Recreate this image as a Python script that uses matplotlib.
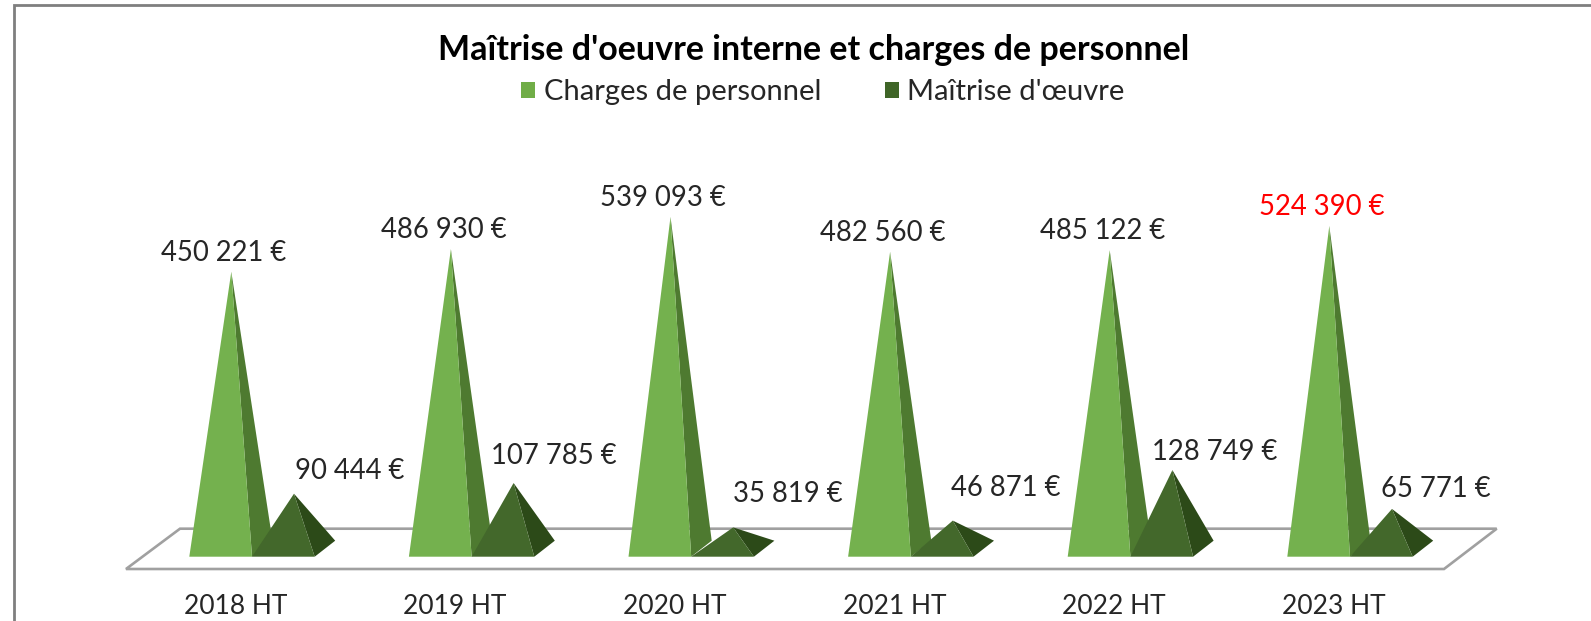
import matplotlib
matplotlib.use('Agg')
import matplotlib.pyplot as plt
from matplotlib.patches import Patch, Polygon, Rectangle

W, H = 1591, 621

years = ['2018 HT', '2019 HT', '2020 HT', '2021 HT', '2022 HT', '2023 HT']
charges = [450221, 486930, 539093, 482560, 485122, 524390]
maitrise = [90444, 107785, 35819, 46871, 128749, 65771]
charges_labels = ['450\u202f221 €', '486\u202f930 €', '539\u202f093 €', '482\u202f560 €', '485\u202f122 €', '524\u202f390 €']
maitrise_labels = ['90\u202f444 €', '107\u202f785 €', '35\u202f819 €', '46\u202f871 €', '128\u202f749 €', '65\u202f771 €']

# label offsets from the apex, in pixels (placed by hand in the original)
maitrise_dx = [56, 40, 55, 53, 42, 44]
maitrise_dy = [22.5, 26.5, 33.5, 32.5, 18.5, 19.5]

# scales: pixels per category and per euro
PX_CAT = 219.6
PX_EUR = 0.000617
X0_PX = 235.5
Y0_PX = 549.5

plt.rcParams['font.family'] = ['Lato', 'DejaVu Sans']
TXT = '#262626'
LABEL_SIZE = 19.8

fig = plt.figure(figsize=(W / 100, H / 100), dpi=100)
ax = fig.add_axes([0, 0, 1, 1])
ax.set_xlim(-X0_PX / PX_CAT, (W - X0_PX) / PX_CAT)
ax.set_ylim(-(H - Y0_PX) / PX_EUR, Y0_PX / PX_EUR)
ax.axis('off')


def dx(px):
    return px / PX_CAT


def dy(px):
    return px / PX_EUR


def pyramid(cat, value, left, front, side):
    # left = front-left base corner relative to category, in pixels
    x0 = cat + dx(left)
    x1 = x0 + dx(62.7)
    x2 = x1 + dx(20.5)
    apex = (x0 + dx(42), value)
    yf = dy(-7.2)
    yb = dy(8.8)
    ax.add_patch(Polygon([(x1, yf), (x2, yb), apex], closed=True, fc=side, ec='none', zorder=3))
    ax.add_patch(Polygon([(x0, yf), (x1, yf), apex], closed=True, fc=front, ec='none', zorder=3))
    return apex


# outer frame, only left and top are inside the picture
fig.add_artist(Rectangle((13.5 / W, -0.1), 1.2, (1 - 5.3 / H) + 0.1, transform=fig.transFigure,
                         fc='white', ec='#7F7F7F', lw=2.0, zorder=-1))

# floor
ax.add_patch(Polygon([(dx(126 - X0_PX), dy(Y0_PX - 569)),
                      (dx(180 - X0_PX), dy(Y0_PX - 528.7)),
                      (dx(1496.7 - X0_PX), dy(Y0_PX - 528.7)),
                      (dx(1444 - X0_PX), dy(Y0_PX - 569))],
                     closed=True, fc='white', ec='#A0A0A0', lw=1.9, zorder=2))

for i, year in enumerate(years):
    a = pyramid(i, charges[i], -46.2, '#74B14E', '#4E7A30')
    b = pyramid(i, maitrise[i], 16.5, '#43682B', '#2C4A18')
    ax.text(a[0] + dx(-7.5), a[1] + dy(19), charges_labels[i], ha='center', va='center',
            fontsize=LABEL_SIZE, color='#FF0000' if year == '2023 HT' else TXT, zorder=5)
    ax.text(b[0] + dx(maitrise_dx[i]), b[1] + dy(maitrise_dy[i]), maitrise_labels[i], ha='center', va='center',
            fontsize=LABEL_SIZE, color=TXT, zorder=5)
    ax.text(i, dy(Y0_PX - 606.7), year, ha='center', va='center', fontsize=19, color=TXT, zorder=5)

fig.text(813.5 / W, 1 - 50 / H, "Maîtrise d'oeuvre interne et charges de personnel",
         ha='center', va='center', fontsize=24.5, fontweight='bold', color='black')

handles = [Patch(fc='#70AD47', label='Charges de personnel'), Patch(fc='#3F6527', label="Maîtrise d'œuvre")]
fig.legend(handles=handles, loc='center', bbox_to_anchor=(823 / W, 1 - 92 / H), ncol=2, frameon=False,
           fontsize=21, labelcolor=TXT, handlelength=0.48, handleheight=0.48, handletextpad=0.3,
           columnspacing=2.16)

fig.savefig('out.png', dpi=100)
